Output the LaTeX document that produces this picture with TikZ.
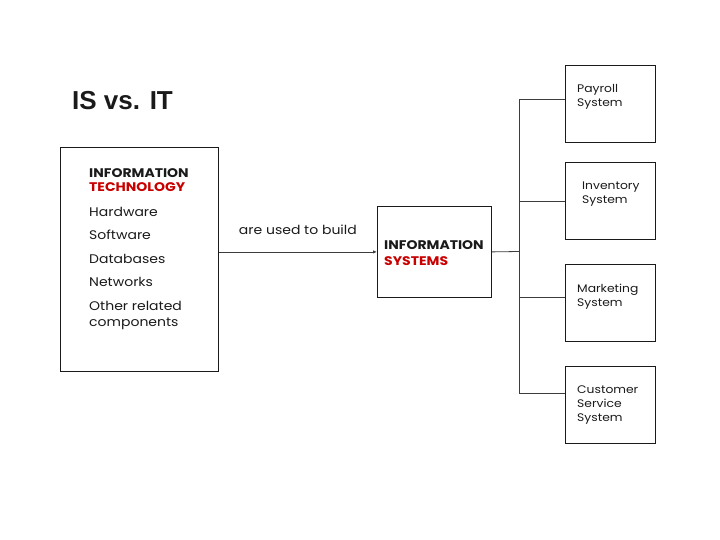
\documentclass[tikz,border=0pt]{standalone}
\usepackage{fontspec}
\setmainfont{Poppins}[FakeStretch=1.12]
\newfontfamily\titlefont{Liberation Sans}
\usetikzlibrary{arrows.meta,positioning}
\definecolor{ink}{HTML}{1A1A1A}
\definecolor{isred}{HTML}{C80000}
\tikzset{
  panel/.style={draw=ink,line width=.8pt,inner sep=0pt,minimum width=#1},
  link/.style={draw=ink!85,line width=.8pt},
  entry/.style={anchor=base west,inner sep=0pt,font=\fontsize{12.5}{14}\selectfont,text=ink},
  heading/.style={entry,font=\fontsize{12.5}{14}\selectfont\bfseries},
  sysname/.style={anchor=north west,inner sep=0pt,align=left,font=\fontsize{11}{14}\selectfont,text=ink},
  headline/.style={anchor=base west,inner sep=0pt,font=\titlefont\fontsize{26}{26}\selectfont\bfseries,text=ink}
}
\begin{document}
\begin{tikzpicture}[x=1pt,y=-1pt]
  \useasboundingbox (0,0) rectangle (720,540);
  \node[headline] (title) at (72,110) {IS vs. IT};

  % IT box on the left
  \node[panel=158pt,minimum height=224pt,anchor=north west] (itbox) at (60,147) {};
  \node[heading] (it-head) at (89,177.5) {INFORMATION};
  \node[heading,text=isred] (it-tech) at (89,191.5) {TECHNOLOGY};
  \foreach \y/\t [count=\i] in {216/Hardware,239.5/Software,263/Databases,286.5/Networks,310/Other related,326/components}
    \node[entry] (it-\i) at (89,\y) {\t};

  % IS box in the middle
  \node[panel=114pt,minimum height=91pt,anchor=north west] (isbox) at (377,206) {};
  \node[heading] (is-head) at (384,249.5) {INFORMATION};
  \node[heading,text=isred] (is-sys) at (384,265.5) {SYSTEMS};

  \draw[link,-{Latex[length=4pt,width=3.5pt]}] (itbox.east |- isbox.west) -- (isbox.west)
    node[pos=.5,above=17pt,entry,anchor=base] (build) {are used to build};

  % systems on the right
  \foreach \n/\top/\dx/\t in {pay/65/12/{Payroll\\System},inv/162/17/{Inventory\\System},mkt/264/12/{Marketing\\System},cus/366/12/{Customer\\Service\\System}}{
    \node[panel=90pt,minimum height=77pt,anchor=north west] (\n) at (565,\top) {};
    \node[sysname] (\n-t) at ([xshift=\dx pt,yshift=-19.5pt]\n.north west) {\t};
  }
  \coordinate (trunk) at (519,251.5);
  \draw[link] (isbox.east) -- (trunk);
  \draw[link] (trunk) |- ([yshift=4.5pt]pay.west);
  \draw[link] (trunk) |- ([yshift=-.5pt]inv.west);
  \draw[link] (trunk) |- ([yshift=5.5pt]mkt.west);
  \draw[link] (trunk) |- ([yshift=11.5pt]cus.west);
\end{tikzpicture}
\end{document}
